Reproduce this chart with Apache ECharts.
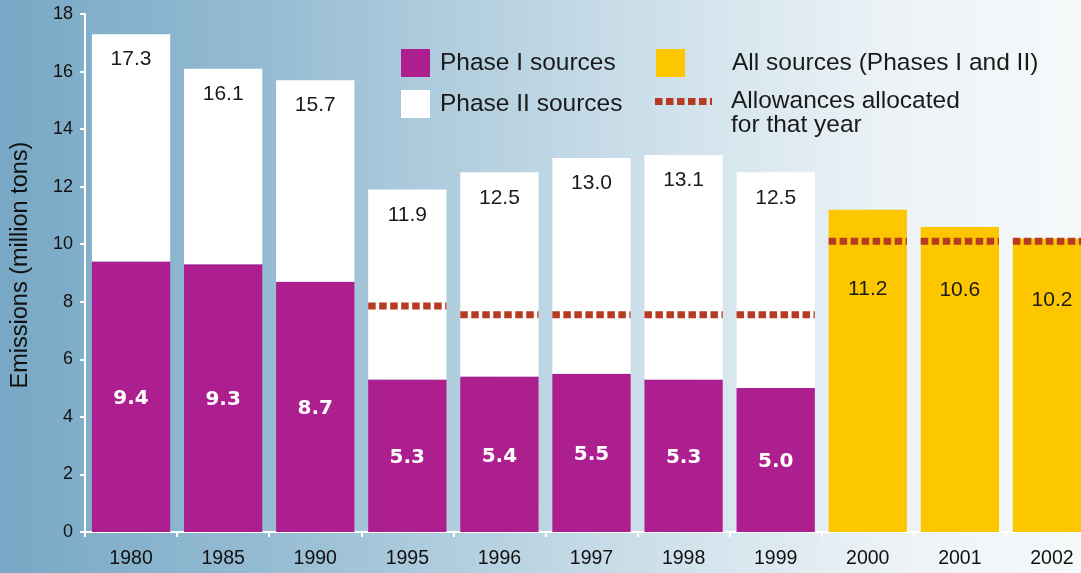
<!DOCTYPE html>
<html>
<head>
<meta charset="utf-8">
<script src="https://cdn.jsdelivr.net/npm/echarts@6/dist/echarts.min.js"></script>
<style>
html,body{margin:0;padding:0;}
#c{width:1081px;height:573px;background:linear-gradient(to right,#78a8c5 0%,#96bcd3 25%,#b6d1e0 45%,#d4e4ed 65%,#ebf2f6 82%,#f6f9fa 100%);}
</style>
</head>
<body>
<div id="c"></div>
<script>
const categories = ['1980','1985','1990','1995','1996','1997','1998','1999','2000','2001','2002'];
const phase1 = [9.4, 9.3, 8.7, 5.3, 5.4, 5.5, 5.3, 5.0, null, null, null];
const totals = [17.3, 16.1, 15.7, 11.9, 12.5, 13.0, 13.1, 12.5, null, null, null];
const allSources = [null, null, null, null, null, null, null, null, 11.2, 10.6, 10.2];
const allowances = [null, null, null, 7.85, 7.55, 7.55, 7.55, 7.55, 10.1, 10.1, 10.1];
const yTicks = [0, 2, 4, 6, 8, 10, 12, 14, 16, 18];

const phase2 = totals.map((t, i) => t == null ? null : +(t - phase1[i]).toFixed(2));
const allowData = allowances.map((v, i) => v == null ? null : [i, v]).filter(d => d);
const allLabelDist = [69, 53, 51];

const PURPLE = '#ad1f8e', YELLOW = '#fdc700', RED = '#b73a22';
const FONT = 'Liberation Sans, Arial, sans-serif';
const TXT = '#1a1a1a';

const chart = echarts.init(document.getElementById('c'), null, {renderer: 'canvas'});
chart.setOption({
  backgroundColor: 'transparent',
  animation: false,
  textStyle: {fontFamily: FONT},
  grid: {left: 85, width: 1013, top: 14, bottom: 41, outerBoundsMode: 'none', containLabel: false},
  legend: [
    {
      orient: 'vertical', left: 401, top: 49, padding: 0, itemWidth: 29, itemHeight: 28, itemGap: 13,
      icon: 'rect',
      data: ['Phase I sources', 'Phase II sources'],
      textStyle: {fontSize: 24.5, color: TXT, padding: [0, 0, 0, 5]},
      selectedMode: false
    },
    {
      orient: 'vertical', left: 656, top: 49, padding: 0, itemWidth: 29, itemHeight: 28,
      icon: 'rect',
      data: ['All sources (Phases I and II)'],
      textStyle: {fontSize: 24.5, color: TXT, padding: [0, 0, 0, 42]},
      selectedMode: false
    },
    {
      orient: 'vertical', left: 655, top: 65, padding: 0, itemWidth: 57, itemHeight: 7,
      data: [{name: 'Allowances allocated\nfor that year',
        icon: 'path://M0,0h7.5v7h-7.5zM11,0h7.5v7h-7.5zM22,0h7.5v7h-7.5zM33,0h7.5v7h-7.5zM44,0h7.5v7h-7.5zM55,0h2v7h-2z'}],
      formatter: name => '\n' + name,
      textStyle: {fontSize: 24.5, color: TXT, lineHeight: 24, padding: [0, 0, 0, 14]},
      selectedMode: false
    }
  ],
  xAxis: {
    type: 'category',
    data: categories,
    axisLine: {lineStyle: {color: '#ffffff', width: 2}},
    axisTick: {show: true, lineStyle: {color: '#ffffff', width: 2}, length: 5},
    axisLabel: {fontSize: 19.5, color: '#111111', margin: 17}
  },
  yAxis: {
    type: 'value',
    min: yTicks[0], max: yTicks[yTicks.length - 1], interval: 2,
    name: 'Emissions (million tons)',
    nameLocation: 'middle', nameGap: 52,
    nameTextStyle: {fontSize: 23.5, color: '#111111', padding: [0, 0, 0, 16]},
    axisLine: {show: true, lineStyle: {color: '#ffffff', width: 2}},
    axisTick: {show: true, lineStyle: {color: '#ffffff', width: 2}, length: 5},
    axisLabel: {fontSize: 18, color: '#111111', margin: 12},
    splitLine: {show: false}
  },
  series: [
    {
      name: 'Phase I sources', type: 'bar', stack: 'a', data: phase1,
      barCategoryGap: '15%',
      itemStyle: {color: PURPLE},
      label: {show: true, position: 'inside', offset: [0, 2], color: '#ffffff', fontSize: 20, fontWeight: 'bold',
        fontFamily: 'DejaVu Sans, sans-serif',
        formatter: p => p.value.toFixed(1)}
    },
    {
      name: 'Phase II sources', type: 'bar', stack: 'a', data: phase2,
      itemStyle: {color: '#ffffff'},
      label: {show: true, position: 'insideTop', distance: 15, color: TXT, fontSize: 21,
        formatter: p => totals[p.dataIndex].toFixed(1)}
    },
    {
      name: 'All sources (Phases I and II)', type: 'bar', stack: 'a',
      data: allSources.map((v, i) => v == null ? null : {
        value: v,
        label: {distance: allLabelDist[i - 8]}
      }),
      itemStyle: {color: YELLOW},
      label: {show: true, position: 'insideTop', color: TXT, fontSize: 21,
        formatter: p => p.value.toFixed(1)}
    },
    {
      name: 'Allowances allocated\nfor that year', type: 'custom',
      data: allowData,
      encode: {x: 0, y: 1},
      itemStyle: {color: RED},
      z: 5,
      renderItem: function (params, api) {
        const c = api.coord([api.value(0), api.value(1)]);
        const w = api.size([1, 0])[0] * 0.85;
        return {
          type: 'line',
          shape: {x1: c[0] - w / 2, y1: c[1], x2: c[0] + w / 2, y2: c[1]},
          style: {stroke: RED, lineWidth: 7, lineDash: [7.5, 3.5]}
        };
      }
    }
  ]
});
</script>
</body>
</html>
